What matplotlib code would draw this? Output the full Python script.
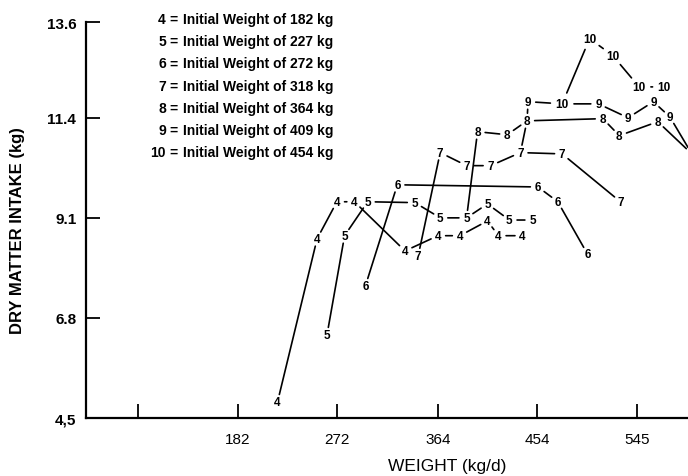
import matplotlib
matplotlib.use('Agg')
import matplotlib.pyplot as plt

plt.rcParams['font.family'] = ['Liberation Sans', 'DejaVu Sans']

# weight (kg) and dry matter intake (kg) for each initial-weight group
w4 = [218, 254, 272, 288, 334, 364, 384, 409, 419, 441]
dmi4 = [4.87, 8.62, 9.47, 9.47, 8.34, 8.69, 8.69, 9.03, 8.69, 8.69]

w5 = [263, 279, 300, 343, 366, 390, 409, 429, 450]
dmi5 = [6.41, 8.69, 9.47, 9.45, 9.10, 9.10, 9.42, 9.05, 9.05]

w6 = [298, 327, 455, 473, 500]
dmi6 = [7.54, 9.86, 9.81, 9.47, 8.27]

w7 = [346, 366, 390, 412, 439, 477, 530]
dmi7 = [8.23, 10.60, 10.30, 10.30, 10.60, 10.57, 9.47]

w8 = [390, 400, 427, 445, 514, 529, 564, 595]
dmi8 = [9.10, 11.08, 11.01, 11.33, 11.38, 10.99, 11.31, 10.57]

w9 = [446, 477, 510, 537, 560, 575, 595]
dmi9 = [11.77, 11.72, 11.72, 11.40, 11.77, 11.42, 10.57]

w10 = [477, 502, 523, 547, 570]
dmi10 = [11.72, 13.22, 12.83, 12.11, 12.11]

# points that sit under another group's number
unlabeled = {8: [0, 7], 9: [1]}
# extra connecting strokes between groups
links = [((439, 10.60), (445, 11.33)), ((446, 11.77), (445, 11.33))]

initial_weights = [182, 227, 272, 318, 364, 409, 454]

x_ticks = [91, 182, 272, 364, 454, 545]
x_labels = ['', '182', '272', '364', '454', '545']
y_ticks = [4.5, 6.8, 9.1, 11.4, 13.6]
y_labels = ['4,5', '6.8', '9.1', '11.4', '13.6']

groups = {4: (w4, dmi4), 5: (w5, dmi5), 6: (w6, dmi6), 7: (w7, dmi7),
          8: (w8, dmi8), 9: (w9, dmi9), 10: (w10, dmi10)}

fig = plt.figure(figsize=(6.88, 4.77), dpi=100)
ax = fig.add_axes([0.125, 0.1216, 0.875, 0.8784])
ax.set_xlim(43.7, 591.5)
ax.set_ylim(4.5, 14.13)

wide_pts = set(zip(w10, dmi10))


def gap(p):
    return 8.5 if p in wide_pts else 5.5


def seg(p1, p2):
    ax.annotate('', xy=p2, xytext=p1, annotation_clip=False,
                arrowprops=dict(arrowstyle='-', lw=1.2, color='black',
                                shrinkA=gap(p1), shrinkB=gap(p2)))


for g, (xs, ys) in groups.items():
    pts = list(zip(xs, ys))
    for a, b in zip(pts[:-1], pts[1:]):
        seg(a, b)
    skip = unlabeled.get(g, [])
    for i, (x, y) in enumerate(pts):
        if i in skip:
            continue
        ax.text(x, y, str(g), ha='center', va='center', fontsize=8.5,
                fontweight='bold', clip_on=True)

for a, b in links:
    seg(a, b)

for s in ['top', 'right']:
    ax.spines[s].set_visible(False)
ax.spines['left'].set_bounds(4.5, 13.6)
ax.spines['left'].set_linewidth(1.6)
ax.spines['bottom'].set_linewidth(1.6)

ax.set_xticks(x_ticks)
ax.set_xticklabels(x_labels)
ax.set_yticks(y_ticks)
ax.set_yticklabels(y_labels)
ax.tick_params(direction='in', length=10, width=1.3, labelsize=11, pad=7)
ax.tick_params(axis='x', pad=10)
for lab in ax.get_yticklabels():
    lab.set_fontweight('bold')

fig.text(447 / 688, 1 - 467 / 477, 'WEIGHT (kg/d)', ha='center', va='center',
         fontsize=12.5)
fig.text(18 / 688, 1 - 231 / 477, 'DRY MATTER INTAKE (kg)', rotation=90,
         ha='center', va='center', fontsize=12, fontweight='bold')

# group key in the upper left
for i, (g, iw) in enumerate(zip(groups, initial_weights)):
    yy = 1 - (20 + 22.2 * i) / 477
    fig.text(166 / 688, yy, str(g), ha='right', va='center', fontsize=10,
             fontweight='bold')
    fig.text(174 / 688, yy, '=', ha='center', va='center', fontsize=10,
             fontweight='bold')
    fig.text(183 / 688, yy, f'Initial Weight of {iw} kg', ha='left',
             va='center', fontsize=10, fontweight='bold')

fig.savefig('out.png', dpi=100)
